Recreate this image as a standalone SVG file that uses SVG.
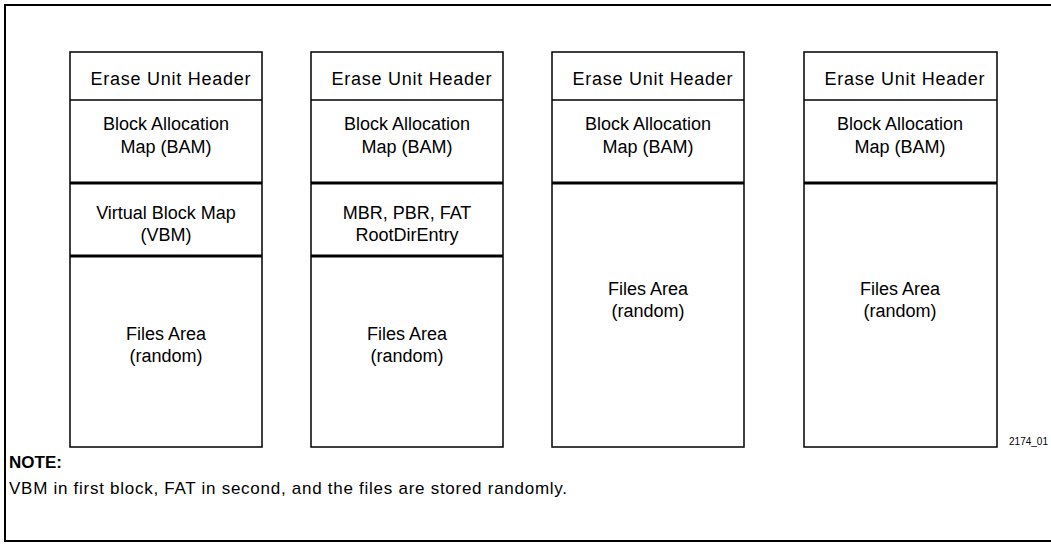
<svg xmlns="http://www.w3.org/2000/svg" width="1051" height="553" viewBox="0 0 1051 553">
<style>
.frame{fill:none;stroke:#000;stroke-width:2}
.box{fill:#fff;stroke:#000;stroke-width:1.5}
.div{stroke:#000;stroke-width:1.5}
.thick{stroke:#000;stroke-width:3}
.t{font-family:"Liberation Sans",Arial,sans-serif;font-size:18px;fill:#000;text-anchor:middle}
.note{font-family:"Liberation Sans",Arial,sans-serif;font-size:17px;fill:#000}
.nb{font-weight:bold}
.id{font-family:"Liberation Sans",Arial,sans-serif;font-size:10px;fill:#000;text-anchor:end}
</style>
<path class="frame" d="M1055,5 H5 V541 H1055"/>
<g id="unit1">
<rect class="box" x="70" y="52" width="192" height="395"/>
<line class="div" x1="70" y1="100" x2="262" y2="100"/>
<line class="thick" x1="70" y1="183" x2="262" y2="183"/>
<line class="thick" x1="70" y1="256" x2="262" y2="256"/>
<text class="t" x="170.5" y="85" textLength="160">Erase Unit Header</text>
<text class="t" x="166" y="130">Block Allocation</text>
<text class="t" x="166" y="153">Map (BAM)</text>
<text class="t" x="166" y="219">Virtual Block Map</text>
<text class="t" x="166" y="241">(VBM)</text>
<text class="t" x="166" y="340">Files Area</text>
<text class="t" x="166" y="362">(random)</text>
</g>
<g id="unit2">
<rect class="box" x="311" y="52" width="192" height="395"/>
<line class="div" x1="311" y1="100" x2="503" y2="100"/>
<line class="thick" x1="311" y1="183" x2="503" y2="183"/>
<line class="thick" x1="311" y1="256" x2="503" y2="256"/>
<text class="t" x="411.5" y="85" textLength="160">Erase Unit Header</text>
<text class="t" x="407" y="130">Block Allocation</text>
<text class="t" x="407" y="153">Map (BAM)</text>
<text class="t" x="407" y="219">MBR, PBR, FAT</text>
<text class="t" x="407" y="241">RootDirEntry</text>
<text class="t" x="407" y="340">Files Area</text>
<text class="t" x="407" y="362">(random)</text>
</g>
<g id="unit3">
<rect class="box" x="552" y="52" width="192" height="395"/>
<line class="div" x1="552" y1="100" x2="744" y2="100"/>
<line class="thick" x1="552" y1="183" x2="744" y2="183"/>
<text class="t" x="652.5" y="85" textLength="160">Erase Unit Header</text>
<text class="t" x="648" y="130">Block Allocation</text>
<text class="t" x="648" y="153">Map (BAM)</text>
<text class="t" x="648" y="295">Files Area</text>
<text class="t" x="648" y="317">(random)</text>
</g>
<g id="unit4">
<rect class="box" x="804" y="52" width="193" height="395"/>
<line class="div" x1="804" y1="100" x2="997" y2="100"/>
<line class="thick" x1="804" y1="183" x2="997" y2="183"/>
<text class="t" x="904.5" y="85" textLength="160">Erase Unit Header</text>
<text class="t" x="900" y="130">Block Allocation</text>
<text class="t" x="900" y="153">Map (BAM)</text>
<text class="t" x="900" y="295">Files Area</text>
<text class="t" x="900" y="317">(random)</text>
</g>
<g id="connectors"></g>
<text class="id" x="1048" y="445">2174_01</text>
<text class="note nb" x="9" y="468">NOTE:</text>
<text class="note" x="9" y="494" textLength="558">VBM in first block, FAT in second, and the files are stored randomly.</text>
</svg>
